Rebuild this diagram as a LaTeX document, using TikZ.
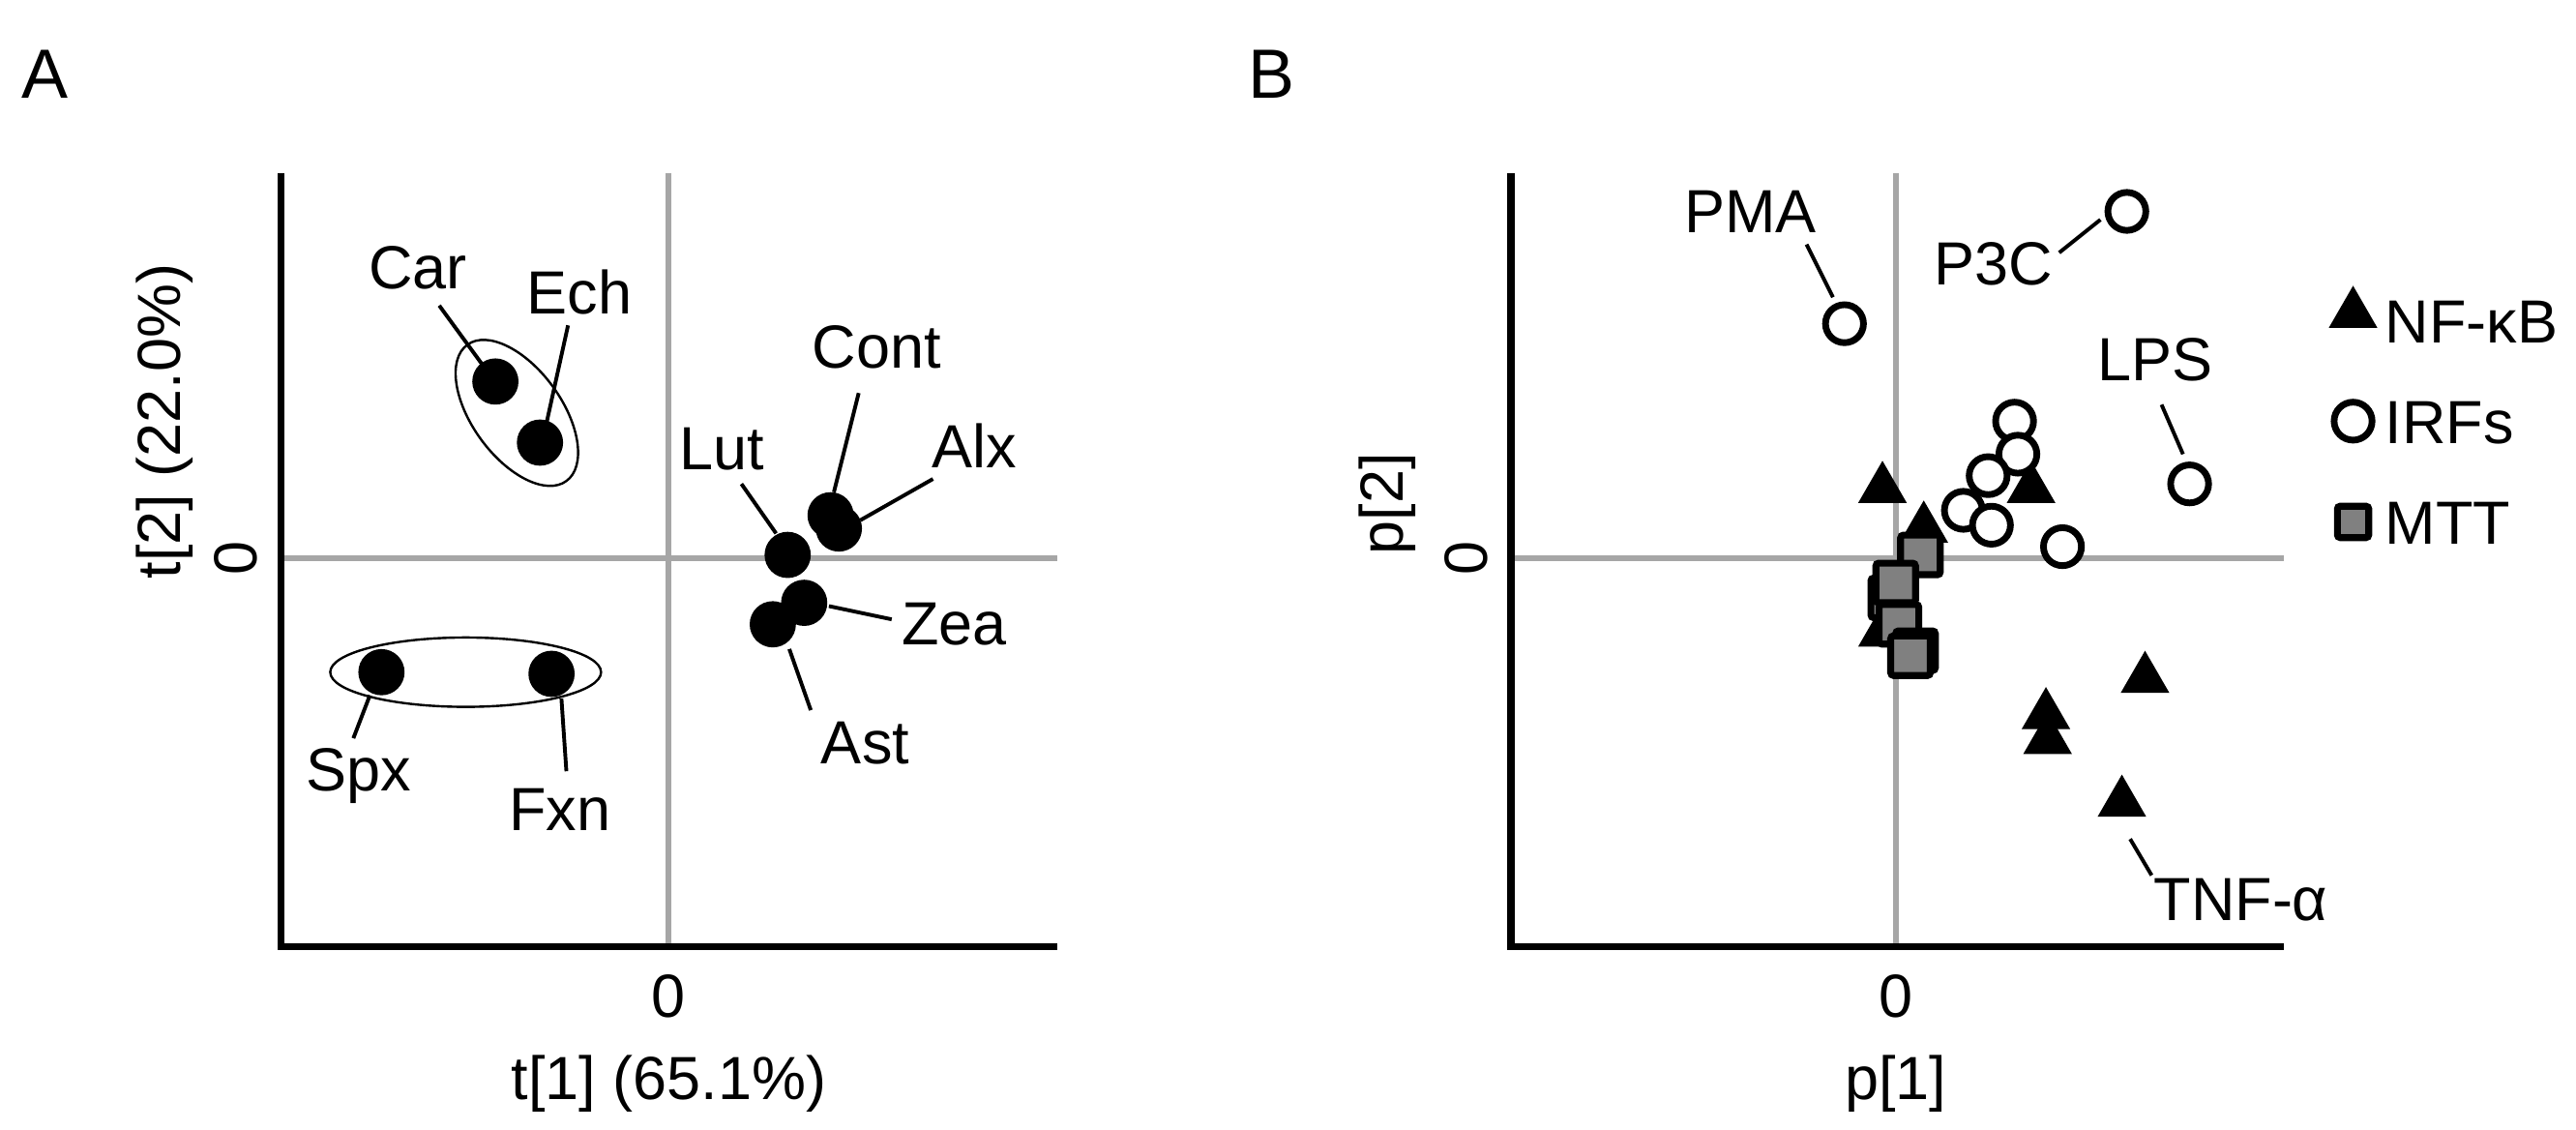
\documentclass[tikz,border=0pt]{standalone}
\usepackage{fontspec}
\setmainfont{Liberation Sans}
\usetikzlibrary{shapes.geometric}
\begin{document}
\begin{tikzpicture}[x=0.02cm,y=-0.02cm,
 ax/.style={line width=2.4pt},
 gr/.style={line width=2pt,draw=black!35},
 lbl/.style={font=\fontsize{21}{24}\selectfont,inner sep=0pt},
 ld/.style={line width=1.3pt},
 dot/.style={circle,fill=black,minimum size=0.56cm,inner sep=0pt},
 oc/.style={circle,draw=black,fill=white,line width=2.3pt,minimum size=0.46cm,inner sep=0pt},
 tri/.style={regular polygon,regular polygon sides=3,fill=black,minimum size=0.68cm,inner sep=0pt},
 sq/.style={rectangle,draw=black,fill=black!50,line width=2.4pt,minimum size=0.48cm,inner sep=0pt,rounded corners=1pt}]
\useasboundingbox (0,0) rectangle (1560,684);
% Panel A
\node[lbl,font=\fontsize{24}{28}\selectfont] (A) at (27,45) {A};
\draw[gr] (405,105) -- (405,573);
\draw[gr] (170,338) -- (640,338);
\draw[ax] (170,105) -- (170,573) -- (640,573);
\node[lbl] (a0x) at (405,603) {0};
\node[lbl] (atx) at (405,656) {t[1] (65.1\%)};
\node[lbl,rotate=90] (a0y) at (143,338) {0};
\node[lbl,rotate=90] (aty) at (100,255) {t[2] (22.0\%)};
\draw[line width=0.8pt,rotate around={-54:(313,250)}] (313,250) ellipse (51 and 27);
\draw[line width=0.8pt] (282,407) ellipse (82 and 21);
\foreach \n/\x/\y in {car/300/231,ech/327/268,cont/503/312,alx/508/320,lut/477/336,zea/487/365,ast/468/378,spx/231/407,fxn/334/408}
 \node[dot] (\n) at (\x,\y) {};
\node[lbl] (lcar) at (253,162) {Car};
\node[lbl] (lech) at (351,177) {Ech};
\node[lbl] (lcont) at (531,210) {Cont};
\node[lbl] (lalx) at (590,270) {Alx};
\node[lbl] (llut) at (437,272) {Lut};
\node[lbl] (lzea) at (578,378) {Zea};
\node[lbl] (last) at (524,450) {Ast};
\node[lbl] (lspx) at (217,470) {Spx};
\node[lbl] (lfxn) at (339,490) {Fxn};
\coordinate (c1) at (266,185); \coordinate (c2) at (293,222);
\draw[ld] (c1) -- (c2);
\coordinate (c3) at (344,197); \coordinate (c4) at (331,256);
\draw[ld] (c3) -- (c4);
\coordinate (c5) at (520,238); \coordinate (c6) at (505,298);
\draw[ld] (c5) -- (c6);
\coordinate (c7) at (565,290); \coordinate (c8) at (521,315);
\draw[ld] (c7) -- (c8);
\coordinate (c9) at (449,293); \coordinate (c10) at (470,323);
\draw[ld] (c9) -- (c10);
\coordinate (c11) at (540,375); \coordinate (c12) at (502,367);
\draw[ld] (c11) -- (c12);
\coordinate (c13) at (491,430); \coordinate (c14) at (478,393);
\draw[ld] (c13) -- (c14);
\coordinate (c15) at (214,447); \coordinate (c16) at (224,421);
\draw[ld] (c15) -- (c16);
\coordinate (c17) at (343,467); \coordinate (c18) at (340,423);
\draw[ld] (c17) -- (c18);
% Panel B
\node[lbl,font=\fontsize{24}{28}\selectfont] (B) at (770,45) {B};
\draw[gr] (1148,105) -- (1148,573);
\draw[gr] (915,338) -- (1383,338);
\draw[ax] (915,105) -- (915,573) -- (1383,573);
\node[lbl] (b0x) at (1148,603) {0};
\node[lbl] (bpx) at (1148,656) {p[1]};
\node[lbl,rotate=90] (b0y) at (888,338) {0};
\node[lbl,rotate=90] (bpy) at (840,305) {p[2]};
\foreach \n/\x/\y in {t1/1140/296,t2/1230/296,t3/1165/320,t4/1140/383,t5/1239/433,t6/1240/448,t7/1299/411,t8/1285/486}
 \node[tri] (\n) at (\x,\y) {};
\foreach \n/\x/\y in {s1/1163/336,s2/1145/362,s3/1148/353,s4/1150/378,s5/1160/394,s6/1157/397}
 \node[sq] (\n) at (\x,\y) {};
\foreach \n/\x/\y in {pma/1117/196,p3c/1288/128,lps/1326/293,o1/1220/255,o2/1222/275,o3/1204/288,o4/1189/309,o5/1206/318,o6/1249/331}
 \node[oc] (\n) at (\x,\y) {};
\node[lbl] (lpma) at (1060,128) {PMA};
\node[lbl] (lp3c) at (1207,160) {P3C};
\node[lbl] (llps) at (1305,218) {LPS};
\node[lbl] (ltnf) at (1357,545) {TNF-α};
\coordinate (d1) at (1094,148); \coordinate (d2) at (1110,180);
\draw[ld] (d1) -- (d2);
\coordinate (d3) at (1247,153); \coordinate (d4) at (1272,133);
\draw[ld] (d3) -- (d4);
\coordinate (d5) at (1309,245); \coordinate (d6) at (1322,275);
\draw[ld] (d5) -- (d6);
\coordinate (d7) at (1303,530); \coordinate (d8) at (1290,508);
\draw[ld] (d7) -- (d8);
% legend
\node[tri] (g1) at (1425,190) {};
\node[oc] (g2) at (1425,255) {};
\node[sq,minimum size=0.38cm] (g3) at (1425,316) {};
\node[lbl,anchor=west] (lg1) at (1444,195) {NF-κB};
\node[lbl,anchor=west] (lg2) at (1444,256) {IRFs};
\node[lbl,anchor=west] (lg3) at (1444,317) {MTT};
\end{tikzpicture}
\end{document}
